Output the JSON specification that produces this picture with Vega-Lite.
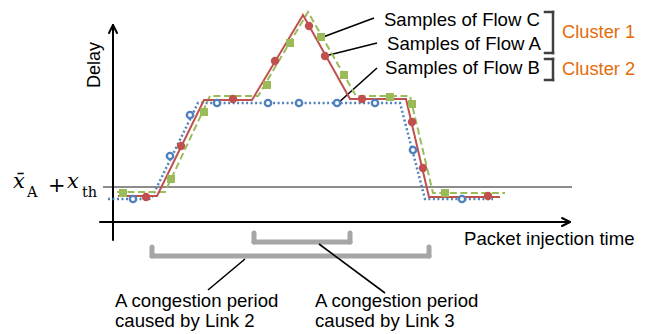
{
  "$schema": "https://vega.github.io/schema/vega-lite/v6.json",
  "width": 650,
  "height": 334,
  "padding": 0,
  "autosize": {"type": "fit", "contains": "padding"},
  "background": "white",
  "config": {"view": {"stroke": null}},
  "datasets": {
    "segs": [
      {"kind": "axis", "x": 113, "y": 240, "x2": 113, "y2": 26},
      {"kind": "axis", "x": 109, "y": 33, "x2": 113, "y2": 25},
      {"kind": "axis", "x": 117, "y": 33, "x2": 113, "y2": 25},
      {"kind": "axis", "x": 100, "y": 222, "x2": 569, "y2": 222},
      {"kind": "axis", "x": 562, "y": 218, "x2": 570, "y2": 222},
      {"kind": "axis", "x": 562, "y": 226, "x2": 570, "y2": 222},
      {"kind": "thresh", "x": 103, "y": 187, "x2": 572, "y2": 187},
      {"kind": "leader", "x": 374, "y": 18, "x2": 323, "y2": 37},
      {"kind": "leader", "x": 377, "y": 43, "x2": 329, "y2": 55},
      {"kind": "leader", "x": 377, "y": 68, "x2": 337, "y2": 104},
      {"kind": "leader", "x": 245, "y": 259, "x2": 208, "y2": 290},
      {"kind": "leader", "x": 319, "y": 244, "x2": 385, "y2": 293},
      {"kind": "cluster", "x": 545, "y": 12, "x2": 553, "y2": 12},
      {"kind": "cluster", "x": 553, "y": 12, "x2": 553, "y2": 53},
      {"kind": "cluster", "x": 545, "y": 53, "x2": 553, "y2": 53},
      {"kind": "cluster", "x": 545, "y": 59, "x2": 553, "y2": 59},
      {"kind": "cluster", "x": 553, "y": 59, "x2": 553, "y2": 80},
      {"kind": "cluster", "x": 545, "y": 80, "x2": 553, "y2": 80},
      {"kind": "cong", "x": 152, "y": 247, "x2": 152, "y2": 256},
      {"kind": "cong", "x": 152, "y": 256, "x2": 429, "y2": 256},
      {"kind": "cong", "x": 429, "y": 256, "x2": 429, "y2": 247},
      {"kind": "cong", "x": 254, "y": 233, "x2": 254, "y2": 242},
      {"kind": "cong", "x": 254, "y": 242, "x2": 350, "y2": 242},
      {"kind": "cong", "x": 350, "y": 242, "x2": 350, "y2": 233}
    ],
    "flows": [
      {"flow": "B", "o": 1, "x": 108, "y": 199},
      {"flow": "B", "o": 2, "x": 151, "y": 199},
      {"flow": "B", "o": 3, "x": 198, "y": 103},
      {"flow": "B", "o": 4, "x": 400, "y": 103},
      {"flow": "B", "o": 5, "x": 425, "y": 199},
      {"flow": "B", "o": 6, "x": 493, "y": 199},
      {"flow": "C", "o": 1, "x": 117, "y": 192},
      {"flow": "C", "o": 2, "x": 165, "y": 192},
      {"flow": "C", "o": 3, "x": 210, "y": 96},
      {"flow": "C", "o": 4, "x": 258, "y": 96},
      {"flow": "C", "o": 5, "x": 308, "y": 12},
      {"flow": "C", "o": 6, "x": 356, "y": 96},
      {"flow": "C", "o": 7, "x": 410, "y": 96},
      {"flow": "C", "o": 8, "x": 433, "y": 193},
      {"flow": "C", "o": 9, "x": 505, "y": 193},
      {"flow": "A", "o": 1, "x": 118, "y": 196},
      {"flow": "A", "o": 2, "x": 157, "y": 196},
      {"flow": "A", "o": 3, "x": 204, "y": 100},
      {"flow": "A", "o": 4, "x": 252, "y": 100},
      {"flow": "A", "o": 5, "x": 303, "y": 15},
      {"flow": "A", "o": 6, "x": 350, "y": 99},
      {"flow": "A", "o": 7, "x": 406, "y": 99},
      {"flow": "A", "o": 8, "x": 429, "y": 197},
      {"flow": "A", "o": 9, "x": 500, "y": 197}
    ],
    "samples": [
      {"flow": "A", "x": 146, "y": 197},
      {"flow": "A", "x": 181, "y": 146},
      {"flow": "A", "x": 233, "y": 99},
      {"flow": "A", "x": 275, "y": 61},
      {"flow": "A", "x": 309, "y": 26},
      {"flow": "A", "x": 325, "y": 56},
      {"flow": "A", "x": 362, "y": 99},
      {"flow": "A", "x": 412, "y": 122},
      {"flow": "A", "x": 423, "y": 168},
      {"flow": "A", "x": 488, "y": 196},
      {"flow": "C", "x": 123, "y": 193},
      {"flow": "C", "x": 171, "y": 179},
      {"flow": "C", "x": 204, "y": 112},
      {"flow": "C", "x": 267, "y": 85},
      {"flow": "C", "x": 290, "y": 43},
      {"flow": "C", "x": 321, "y": 37},
      {"flow": "C", "x": 344, "y": 75},
      {"flow": "C", "x": 390, "y": 97},
      {"flow": "C", "x": 412, "y": 104},
      {"flow": "C", "x": 445, "y": 193},
      {"flow": "B", "x": 133, "y": 199},
      {"flow": "B", "x": 170, "y": 156},
      {"flow": "B", "x": 190, "y": 115},
      {"flow": "B", "x": 217, "y": 103},
      {"flow": "B", "x": 268, "y": 103},
      {"flow": "B", "x": 299, "y": 103},
      {"flow": "B", "x": 337, "y": 103},
      {"flow": "B", "x": 375, "y": 103},
      {"flow": "B", "x": 413, "y": 150},
      {"flow": "B", "x": 462, "y": 199}
    ],
    "texts": [
      {"kind": "right", "label": "Samples of Flow C", "x": 540, "y": 26},
      {"kind": "right", "label": "Samples of Flow A", "x": 541, "y": 50},
      {"kind": "right", "label": "Samples of Flow B", "x": 540, "y": 74},
      {"kind": "left", "label": "Packet injection time", "x": 464, "y": 245},
      {"kind": "left", "label": "A congestion period", "x": 115, "y": 307},
      {"kind": "left", "label": "caused by Link 2", "x": 115, "y": 327},
      {"kind": "left", "label": "A congestion period", "x": 315, "y": 307},
      {"kind": "left", "label": "caused by Link 3", "x": 315, "y": 327},
      {"kind": "cluster", "label": "Cluster 1", "x": 562, "y": 38},
      {"kind": "cluster", "label": "Cluster 2", "x": 562, "y": 75},
      {"kind": "delay", "label": "Delay", "x": 100, "y": 65},
      {"kind": "mathit", "label": "x̄", "x": 13, "y": 188},
      {"kind": "mathrm", "label": "A", "x": 27, "y": 197},
      {"kind": "plus", "label": "+", "x": 48, "y": 192},
      {"kind": "mathit", "label": "x", "x": 67, "y": 188},
      {"kind": "mathrm", "label": "th", "x": 82, "y": 197}
    ]
  },
  "encoding": {
    "x": {"field": "x", "type": "quantitative", "scale": {"domain": [0, 650], "nice": false, "zero": false}, "axis": null},
    "y": {"field": "y", "type": "quantitative", "scale": {"domain": [0, 334], "nice": false, "zero": false, "reverse": true}, "axis": null}
  },
  "layer": [
    {
      "data": {"name": "segs"},
      "transform": [{"filter": "datum.kind === 'cong'"}],
      "mark": {"type": "rule", "color": "#a6a6a6", "strokeWidth": 5, "strokeCap": "round"},
      "encoding": {"x2": {"field": "x2"}, "y2": {"field": "y2"}}
    },
    {
      "data": {"name": "segs"},
      "transform": [{"filter": "datum.kind === 'thresh'"}],
      "mark": {"type": "rule", "color": "#8c8c8c", "strokeWidth": 2},
      "encoding": {"x2": {"field": "x2"}, "y2": {"field": "y2"}}
    },
    {
      "data": {"name": "segs"},
      "transform": [{"filter": "datum.kind === 'axis'"}],
      "mark": {"type": "rule", "color": "#000000", "strokeWidth": 2, "strokeCap": "round"},
      "encoding": {"x2": {"field": "x2"}, "y2": {"field": "y2"}}
    },
    {
      "data": {"name": "segs"},
      "transform": [{"filter": "datum.kind === 'leader'"}],
      "mark": {"type": "rule", "color": "#000000", "strokeWidth": 1.6},
      "encoding": {"x2": {"field": "x2"}, "y2": {"field": "y2"}}
    },
    {
      "data": {"name": "segs"},
      "transform": [{"filter": "datum.kind === 'cluster'"}],
      "mark": {"type": "rule", "color": "#404040", "strokeWidth": 2.5, "strokeCap": "square"},
      "encoding": {"x2": {"field": "x2"}, "y2": {"field": "y2"}}
    },
    {
      "data": {"name": "flows"},
      "transform": [{"filter": "datum.flow === 'B'"}],
      "mark": {"type": "line", "color": "#4f81bd", "strokeWidth": 2.5, "strokeDash": [2, 2.5]},
      "encoding": {"order": {"field": "o", "type": "quantitative"}}
    },
    {
      "data": {"name": "flows"},
      "transform": [{"filter": "datum.flow === 'C'"}],
      "mark": {"type": "line", "color": "#9bbb59", "strokeWidth": 2, "strokeDash": [7, 3.5]},
      "encoding": {"order": {"field": "o", "type": "quantitative"}}
    },
    {
      "data": {"name": "flows"},
      "transform": [{"filter": "datum.flow === 'A'"}],
      "mark": {"type": "line", "color": "#c0504d", "strokeWidth": 2},
      "encoding": {"order": {"field": "o", "type": "quantitative"}}
    },
    {
      "data": {"name": "samples"},
      "transform": [{"filter": "datum.flow === 'B'"}],
      "mark": {"type": "point", "shape": "circle", "size": 40, "filled": false, "fill": "white", "fillOpacity": 1, "stroke": "#4f81bd", "strokeWidth": 2.4, "opacity": 1}
    },
    {
      "data": {"name": "samples"},
      "transform": [{"filter": "datum.flow === 'C'"}],
      "mark": {"type": "point", "shape": "square", "size": 64, "filled": true, "color": "#9bbb59", "opacity": 1}
    },
    {
      "data": {"name": "samples"},
      "transform": [{"filter": "datum.flow === 'A'"}],
      "mark": {"type": "point", "shape": "circle", "size": 70, "filled": true, "color": "#c0504d", "opacity": 1}
    },
    {
      "data": {"name": "texts"},
      "transform": [{"filter": "datum.kind === 'right'"}],
      "mark": {"type": "text", "align": "right", "baseline": "alphabetic", "font": "Liberation Sans", "fontSize": 18.6, "color": "#000000"},
      "encoding": {"text": {"field": "label"}}
    },
    {
      "data": {"name": "texts"},
      "transform": [{"filter": "datum.kind === 'left'"}],
      "mark": {"type": "text", "align": "left", "baseline": "alphabetic", "font": "Liberation Sans", "fontSize": 18.6, "color": "#000000"},
      "encoding": {"text": {"field": "label"}}
    },
    {
      "data": {"name": "texts"},
      "transform": [{"filter": "datum.kind === 'cluster'"}],
      "mark": {"type": "text", "align": "left", "baseline": "alphabetic", "font": "Liberation Sans", "fontSize": 18.3, "color": "#e46c0a"},
      "encoding": {"text": {"field": "label"}}
    },
    {
      "data": {"name": "texts"},
      "transform": [{"filter": "datum.kind === 'delay'"}],
      "mark": {"type": "text", "align": "center", "baseline": "alphabetic", "angle": 270, "font": "Liberation Sans", "fontSize": 18, "color": "#000000"},
      "encoding": {"text": {"field": "label"}}
    },
    {
      "data": {"name": "texts"},
      "transform": [{"filter": "datum.kind === 'mathit'"}],
      "mark": {"type": "text", "align": "left", "baseline": "alphabetic", "font": "DejaVu Serif", "fontStyle": "italic", "fontSize": 21, "color": "#000000"},
      "encoding": {"text": {"field": "label"}}
    },
    {
      "data": {"name": "texts"},
      "transform": [{"filter": "datum.kind === 'mathrm'"}],
      "mark": {"type": "text", "align": "left", "baseline": "alphabetic", "font": "DejaVu Serif", "fontSize": 14.5, "color": "#000000"},
      "encoding": {"text": {"field": "label"}}
    },
    {
      "data": {"name": "texts"},
      "transform": [{"filter": "datum.kind === 'plus'"}],
      "mark": {"type": "text", "align": "left", "baseline": "alphabetic", "font": "DejaVu Serif", "fontSize": 21, "color": "#000000"},
      "encoding": {"text": {"field": "label"}}
    }
  ]
}
